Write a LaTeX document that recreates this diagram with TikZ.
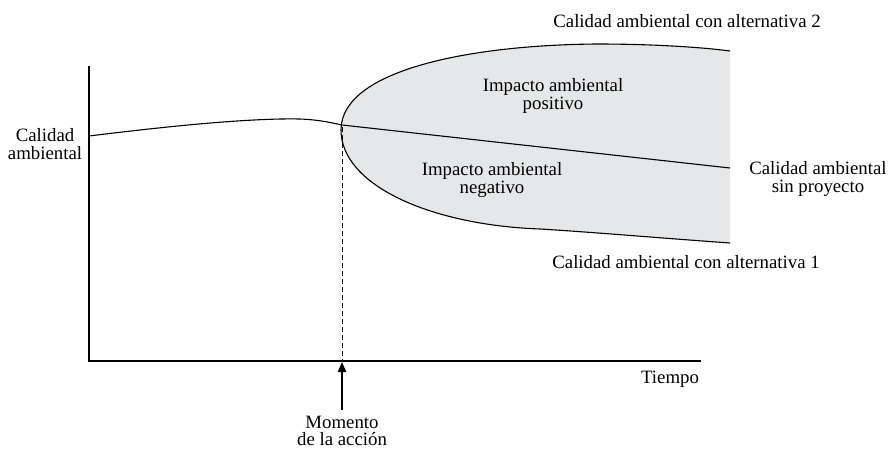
\documentclass[tikz,border=0pt]{standalone}
\usepackage{fontspec}
\setmainfont{Liberation Serif}
\usepackage{tikz}
\usetikzlibrary{arrows.meta}
\definecolor{zona}{RGB}{230,231,232}

\begin{document}
\begin{tikzpicture}[x=1pt,y=-1pt,
 every node/.style={align=center,inner sep=0pt,font=\fontsize{18.8}{17.5}\selectfont}]
 \useasboundingbox (0,0) rectangle (889,452);
 % zona de impacto
 \fill[zona] (341,130) .. controls (341,70) and (470,45) .. (597,44)
   .. controls (650,44) and (700,47) .. (730,51) -- (730,243)
   .. controls (660,238) and (590,232) .. (540,229)
   .. controls (430,225) and (341,185) .. (341,130);
 \draw[line width=1.1pt] (341,130) .. controls (341,70) and (470,45) .. (597,44)
   .. controls (650,44) and (700,47) .. (730,51);
 \draw[line width=1.1pt] (341,130) .. controls (341,185) and (430,225) .. (540,229)
   .. controls (590,232) and (660,238) .. (730,243);
 % calidad sin proyecto
 \draw[line width=1.1pt] (89,136) .. controls (170,126) and (250,118) .. (300,119)
   .. controls (322,120) and (332,123) .. (342,125) -- (730,168);
 % ejes
 \coordinate (o) at (89,361);
 \coordinate (ytop) at (89,66);
 \coordinate (xend) at (701,361);
 \draw[line width=2.2pt] (ytop) -- (o) -- (xend);
 % momento de la accion
 \coordinate (t) at (342,362);
 \coordinate (c) at (342,127);
 \draw[line width=1pt,dash pattern=on 5pt off 3pt] (c) -- (t);
 \node (m) at (342,431) {Momento\\de la acción};
 \draw[line width=2pt,-{Triangle[length=10pt,width=8pt]}] (342,410) -- (t);
 % textos
 \node (ca) at (45,144) {Calidad\\ambiental};
 \node (tiempo) at (670,379) {Tiempo};
 \node (alt2) at (687,21) {Calidad ambiental con alternativa 2};
 \node (alt1) at (686,262) {Calidad ambiental con alternativa 1};
 \node (sp) at (818,179) {Calidad ambiental\\sin proyecto};
 \node (pos) at (553,96) {Impacto ambiental\\positivo};
 \node (neg) at (492,180) {Impacto ambiental\\negativo};
\end{tikzpicture}
\end{document}
